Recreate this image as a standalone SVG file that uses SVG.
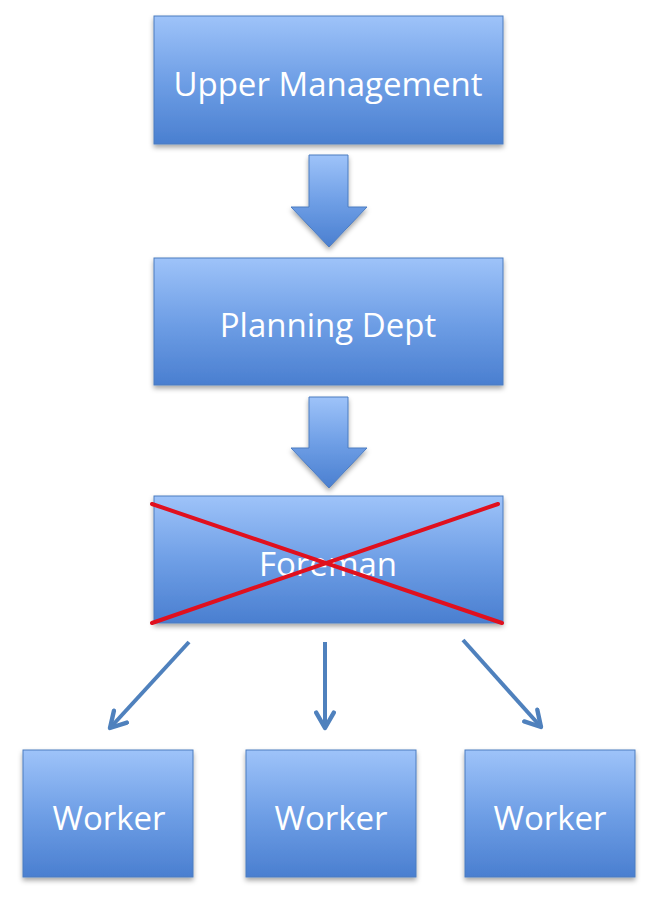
<svg xmlns="http://www.w3.org/2000/svg" width="650" height="901" viewBox="0 0 650 901">
<defs>
<linearGradient id="g" x1="0" y1="0" x2="0" y2="1">
<stop offset="0" stop-color="#9ec3f9"/>
<stop offset="0.5" stop-color="#6f9fe6"/>
<stop offset="1" stop-color="#4a7fd0"/>
</linearGradient>
<filter id="sh" x="-10%" y="-10%" width="120%" height="130%">
<feDropShadow dx="0" dy="3" stdDeviation="2.5" flood-color="#000" flood-opacity="0.35"/>
</filter>
<marker id="ah" viewBox="0 0 10 10" refX="8" refY="5" markerWidth="5.5" markerHeight="5.5" orient="auto" markerUnits="strokeWidth">
<path d="M1,1 L8,5 L1,9" fill="none" stroke="#4f81bd" stroke-width="2" stroke-linecap="round" stroke-linejoin="round"/>
</marker>
</defs>
<style>
.box{fill:url(#g);stroke:#4d7cc0;stroke-width:1;filter:url(#sh)}
.lbl{font-family:"Open Sans","DejaVu Sans",sans-serif;font-size:33px;fill:#fff;text-anchor:middle}
.blk{fill:url(#g);stroke:#4d7cc0;stroke-width:1;filter:url(#sh)}
.con{stroke:#4f81bd;stroke-width:4;fill:none;marker-end:url(#ah)}
.x{stroke:#e0101e;stroke-width:4;stroke-linecap:round}
</style>
<rect width="650" height="901" fill="#fff"/>
<g id="upper">
<rect class="box" x="154" y="16" width="349" height="128"/>
<text class="lbl" x="328" y="96">Upper Management</text>
</g>
<g id="planning">
<rect class="box" x="154" y="258" width="349" height="127"/>
<text class="lbl" x="328" y="337">Planning Dept</text>
</g>
<g id="foreman">
<rect class="box" x="154" y="496" width="349" height="127"/>
<text class="lbl" x="328" y="576">Foreman</text>
<line class="x" x1="152" y1="504" x2="502" y2="623"/>
<line class="x" x1="498" y1="504" x2="152" y2="623"/>
</g>
<g id="worker1">
<rect class="box" x="23" y="750" width="170" height="127"/>
<text class="lbl" x="109" y="830">Worker</text>
</g>
<g id="worker2">
<rect class="box" x="246" y="750" width="170" height="127"/>
<text class="lbl" x="331" y="830">Worker</text>
</g>
<g id="worker3">
<rect class="box" x="465" y="750" width="170" height="127"/>
<text class="lbl" x="550" y="830">Worker</text>
</g>
<g id="connectors">
<polygon class="blk" points="309,155 348,155 348,207 367,207 329,247 291,207 309,207"/>
<polygon class="blk" points="309,397 348,397 348,448 367,448 329,488 291,448 309,448"/>
<line class="con" x1="189" y1="642" x2="110" y2="728"/>
<line class="con" x1="325" y1="642" x2="325" y2="728"/>
<line class="con" x1="463" y1="640" x2="541" y2="727"/>
</g>
</svg>
